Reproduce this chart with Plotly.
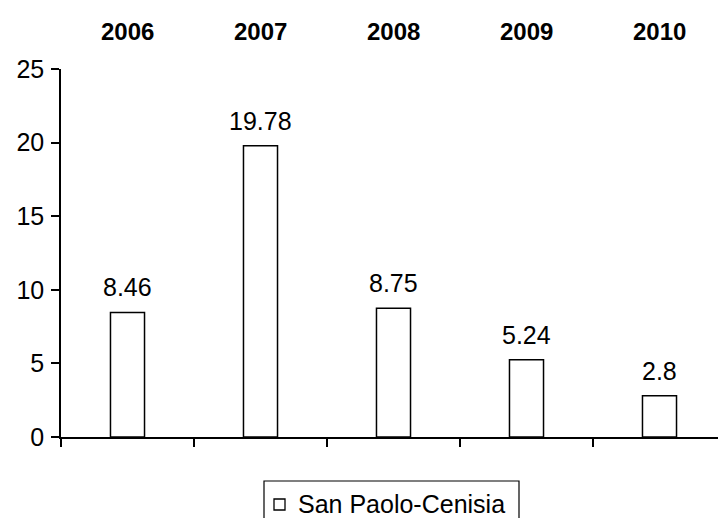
import plotly.graph_objects as go

# Data
years = ["2006", "2007", "2008", "2009", "2010"]
values = [8.46, 19.78, 8.75, 5.24, 2.8]
series_name = "San Paolo-Cenisia"
y_ticks = [0, 5, 10, 15, 20, 25]

FONT = "Liberation Sans, Arial, sans-serif"
FS = 25
W, H = 718, 518
L, R, T, B = 61, 0, 69, 81
PW, PH = W - L - R, H - T - B


def px_x(px):
    return (px - L) / PW


def px_y(py):
    return (H - B - py) / PH


x_pos = list(range(len(years)))
x_range = [-0.5, -0.5 + PW / 133.0]

fig = go.Figure()
fig.add_trace(go.Bar(
    x=x_pos, y=values, width=0.256,
    marker=dict(color="white", line=dict(color="black", width=1.5)),
    showlegend=False, hoverinfo="skip",
))

# value labels above the bars
for xi, v in zip(x_pos, values):
    fig.add_annotation(x=xi, y=v, xref="x", yref="y", text=f"{v:g}",
                       showarrow=False, yanchor="middle", yshift=25,
                       font=dict(family=FONT, size=FS, color="black"))

# category labels along the top
for xi, yr in zip(x_pos, years):
    fig.add_annotation(x=xi, y=px_y(31), xref="x", yref="paper", text=f"<b>{yr}</b>",
                       showarrow=False, yanchor="middle",
                       font=dict(family=FONT, size=FS - 1, color="black"))

# legend box
fig.add_shape(type="rect", xref="paper", yref="paper",
              x0=px_x(264), x1=px_x(519), y0=px_y(540), y1=px_y(481),
              line=dict(color="black", width=1.2), fillcolor="white")
fig.add_shape(type="rect", xref="paper", yref="paper",
              x0=px_x(274), x1=px_x(285), y0=px_y(510), y1=px_y(499),
              line=dict(color="black", width=1.3), fillcolor="white")
fig.add_annotation(x=px_x(296), y=px_y(504), xref="paper", yref="paper",
                   text=series_name, showarrow=False, xanchor="left", yanchor="middle",
                   font=dict(family=FONT, size=FS, color="black"))

fig.update_layout(
    width=W, height=H,
    margin=dict(l=L, r=R, t=T, b=B, pad=0),
    paper_bgcolor="white", plot_bgcolor="white",
    font=dict(family=FONT, size=FS, color="black"),
    xaxis=dict(range=x_range, tickvals=[i - 0.5 for i in range(len(years) + 1)],
               showticklabels=False, ticks="outside", ticklen=8, tickwidth=1.5,
               tickcolor="black", showline=True, linecolor="black", linewidth=1.5,
               showgrid=False, zeroline=False, fixedrange=True),
    yaxis=dict(range=[0, 25], tickvals=y_ticks, ticks="outside", ticklen=8,
               tickwidth=1.5, tickcolor="black", showline=True, linecolor="black",
               linewidth=1.5, showgrid=False, zeroline=False,
               ticklabelstandoff=2, tickfont=dict(family=FONT, size=FS)),
)

fig.write_html("out.html")
